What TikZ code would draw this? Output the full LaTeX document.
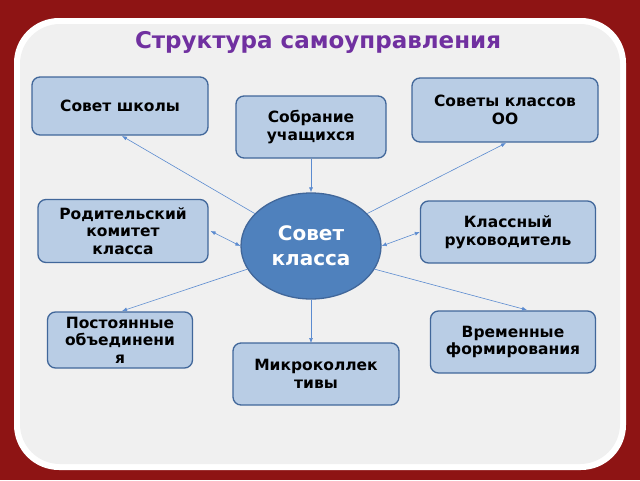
\documentclass[tikz,border=0pt]{standalone}
\usepackage{fontspec}
\setmainfont{DejaVu Sans}
\usetikzlibrary{shapes.geometric,arrows.meta}
\definecolor{bg}{HTML}{8E1414}
\definecolor{boxf}{HTML}{B9CDE5}
\definecolor{boxd}{HTML}{41679A}
\definecolor{ell}{HTML}{4F81BD}
\definecolor{ttl}{HTML}{7030A0}
\definecolor{ln}{HTML}{5B8BD0}
\begin{document}
\begin{tikzpicture}[x=1pt,y=-1pt,
  box/.style={draw=boxd,line width=1.3pt,fill=boxf,rounded corners=8pt,inner sep=0pt,align=center,font=\bfseries\fontsize{15.5}{17.5}\selectfont},
  con/.style={draw=ln,line width=0.6pt},
  ar/.style={-{Latex[length=5pt,width=4pt]}}]
\fill[bg] (0,0) rectangle (640,480);
\useasboundingbox (0,0) rectangle (640,480);
\fill[white] (14,18) [rounded corners=45pt] -- (14,470) -- (626,470) -- (626,18) -- cycle;
\fill[black!6] (20,24) [rounded corners=40pt] -- (20,464) -- (620,464) -- (620,24) -- cycle;
\node[text=ttl,font=\bfseries\fontsize{23}{26}\selectfont] (t) at (318,42) {Структура самоуправления};
\node[box,minimum width=176pt,minimum height=58pt] (a) at (120,106) {Совет школы};
\node[box,minimum width=150pt,minimum height=62pt] (b) at (311,127) {Собрание\\учащихся};
\node[box,minimum width=186pt,minimum height=64pt] (c) at (505,110) {Советы классов\\ОО};
\node[box,minimum width=170pt,minimum height=63pt] (d) at (123,231) {Родительский\\комитет\\класса};
\node[box,minimum width=175pt,minimum height=62pt] (e) at (508,232) {Классный\\руководитель};
\node[box,minimum width=145pt,minimum height=56pt] (f) at (120,340) {Постоянные\\объединени\\я};
\node[box,minimum width=165pt,minimum height=62pt] (g) at (513,342) {Временные\\формирования};
\node[box,minimum width=166pt,minimum height=62pt] (h) at (316,374) {Микроколлек\\тивы};
\node[ellipse,draw=boxd,line width=1.3pt,fill=ell,minimum width=140pt,minimum height=106pt,inner sep=0pt,align=center,text=white,font=\bfseries\fontsize{20}{25}\selectfont] (m) at (311,246) {Совет\\класса};
\coordinate (hn) at (311,343);
\draw[con,ar] (m.150) -- (122,136);
\draw[con,ar] (b.south) -- (m.north);
\draw[con,ar] (m.30) -- (506,143);
\draw[con,{Latex[length=5pt,width=4pt]}-{Latex[length=5pt,width=4pt]}] (d.east) ++(2,0) coordinate (d1) (d1) -- (m.west);
\draw[con,{Latex[length=5pt,width=4pt]}-{Latex[length=5pt,width=4pt]}] (m.east) -- (e.west);
\draw[con,ar] (m.200) -- (122,311);
\draw[con,ar] (m.-20) -- (527,310);
\draw[con,ar] (m.south) -- (hn);
\end{tikzpicture}
\end{document}
